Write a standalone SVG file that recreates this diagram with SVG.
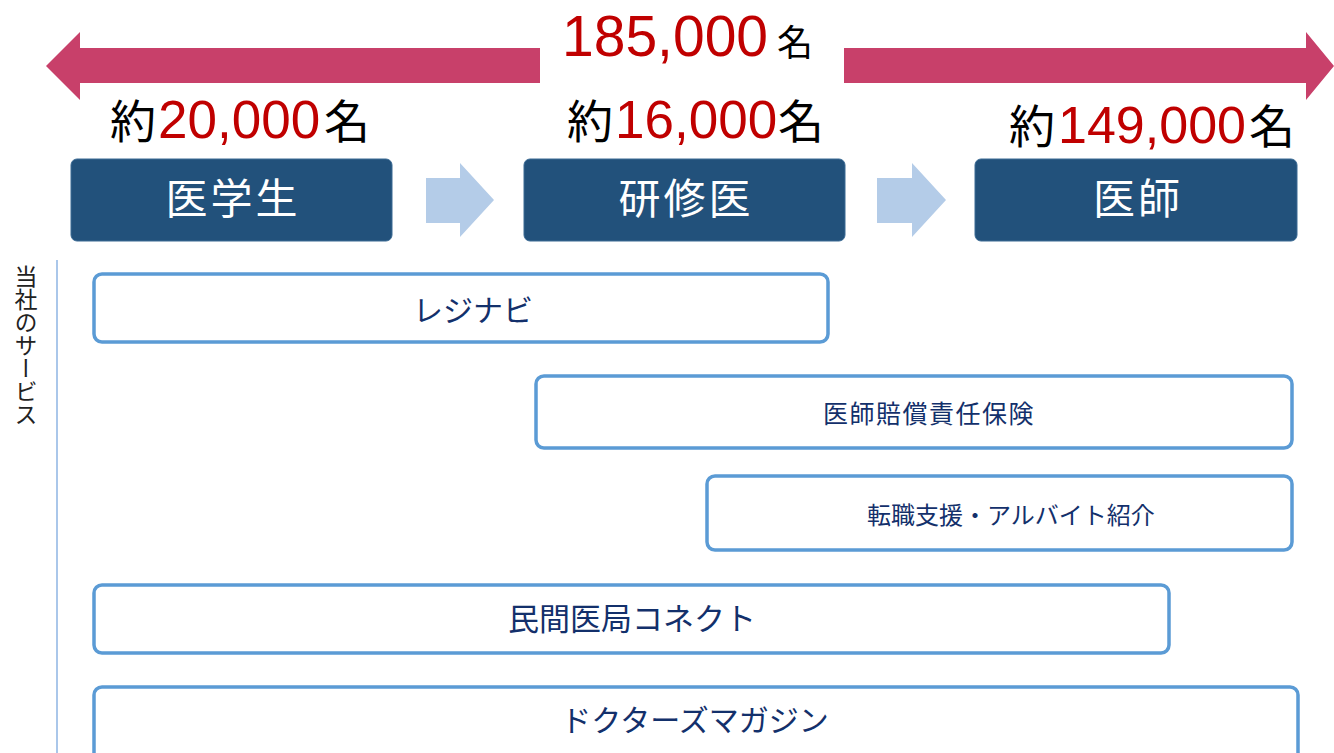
<svg xmlns="http://www.w3.org/2000/svg" width="1334" height="753" viewBox="0 0 1334 753">
<style>
text{font-family:"Noto Sans CJK JP",sans-serif}
.big{fill:#000;font-size:46px}
.red{fill:#C00000;font-family:"Liberation Sans","Noto Sans",sans-serif}
.stage rect{fill:#22517B;stroke:#3A6A94;stroke-width:1}
.stage text{fill:#fff;font-size:42px;letter-spacing:3px;text-anchor:middle}
.svc rect{fill:#fff;stroke:#5B9BD5;stroke-width:3.5}
.svc text{fill:#13306B;text-anchor:middle;font-weight:400}
.flow{fill:#B4CCE8}
.span{fill:#C8406A}
</style>
<rect width="1334" height="753" fill="#fff"/>
<g id="connectors">
<polygon class="span" points="46,66 80,32 80,48 540,48 540,83 80,83 80,100"/>
<polygon class="span" points="844,48 1306,48 1306,32 1334,66 1306,100 1306,83 844,83"/>
<polygon class="flow" points="426,178 460,178 460,163 494,200 460,237 460,223 426,223"/>
<polygon class="flow" points="877,178 912,178 912,163 946,200 912,237 912,223 877,223"/>
</g>
<g id="total">
<text x="562" y="56" class="red" font-size="57">185,000</text>
<text x="777" y="56" font-size="36" fill="#000">名</text>
</g>
<g id="count-students">
<text x="110" y="138" class="big">約</text>
<text x="158" y="138" class="red" font-size="53">20,000</text>
<text x="324" y="138" class="big">名</text>
</g>
<g id="count-residents">
<text x="567" y="138" class="big">約</text>
<text x="615" y="138" class="red" font-size="53">16,000</text>
<text x="778" y="138" class="big">名</text>
</g>
<g id="count-doctors">
<text x="1009" y="143" class="big">約</text>
<text x="1058" y="143" class="red" font-size="52">149,000</text>
<text x="1249" y="143" class="big">名</text>
</g>
<g id="stage-student" class="stage">
<rect x="71" y="159" width="321" height="82" rx="6"/>
<text x="233" y="214">医学生</text>
</g>
<g id="stage-resident" class="stage">
<rect x="524" y="159" width="321" height="82" rx="6"/>
<text x="686" y="214">研修医</text>
</g>
<g id="stage-doctor" class="stage">
<rect x="975" y="159" width="322" height="82" rx="6"/>
<text x="1138" y="214">医師</text>
</g>
<g id="services-label">
<line x1="57" y1="260" x2="57" y2="753" stroke="#8EB4E3" stroke-width="1.5"/>
<text x="26" y="265" font-size="23" fill="#222" style="writing-mode:vertical-rl">当社のサービス</text>
</g>
<g id="svc-reginavi" class="svc">
<rect x="94" y="274" width="734" height="68" rx="8"/>
<text x="473" y="321" font-size="30">レジナビ</text>
</g>
<g id="svc-insurance" class="svc">
<rect x="536" y="376" width="756" height="72" rx="8"/>
<text x="929" y="423" font-size="25" letter-spacing="1.5">医師賠償責任保険</text>
</g>
<g id="svc-career" class="svc">
<rect x="707" y="476" width="585" height="74" rx="8"/>
<text x="1011" y="524" font-size="24">転職支援・アルバイト紹介</text>
</g>
<g id="svc-connect" class="svc">
<rect x="94" y="585" width="1075" height="68" rx="8"/>
<text x="632" y="630" font-size="31">民間医局コネクト</text>
</g>
<g id="svc-magazine" class="svc">
<rect x="94" y="687" width="1204" height="80" rx="8"/>
<text x="695" y="731" font-size="30">ドクターズマガジン</text>
</g>
</svg>
